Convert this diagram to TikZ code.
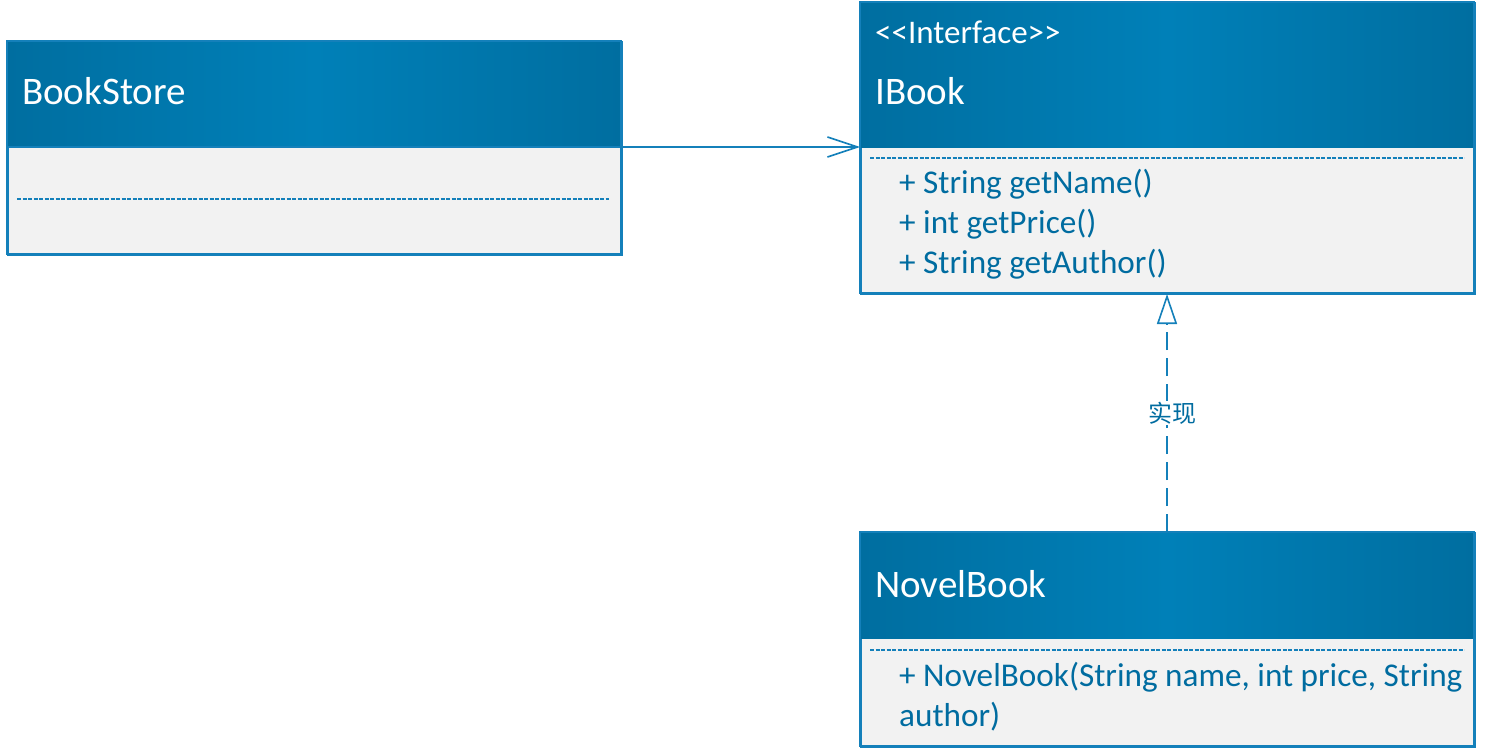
\documentclass[tikz,border=0pt]{standalone}
\usepackage{fontspec}
\setmainfont{Carlito}[Ligatures=NoCommon]
\newfontfamily\cjk{Noto Sans CJK SC}
\usetikzlibrary{arrows.meta}
\definecolor{hdrA}{RGB}{0,110,160}
\definecolor{hdrB}{RGB}{0,128,184}
\definecolor{edge}{RGB}{20,128,186}
\definecolor{bodyfill}{RGB}{242,242,242}
\definecolor{txt}{RGB}{0,108,160}
\tikzset{
  classbox/.style={draw=edge, line width=2pt, fill=bodyfill, rectangle, inner sep=0pt, anchor=north west},
  hdrfill/.style={left color=hdrA, right color=hdrA, middle color=hdrB},
  sep/.style={draw=edge, line width=1.3pt, dash pattern=on 4pt off 1.5pt},
  title/.style={anchor=base west, text=white, font=\fontsize{39}{42}\selectfont, inner sep=0pt},
  stereo/.style={anchor=base west, text=white, font=\fontsize{33}{36}\selectfont, inner sep=0pt},
  member/.style={anchor=base west, text=txt, font=\fontsize{33.2}{36}\selectfont, inner sep=0pt},
  assoc/.style={draw=edge, line width=1.6pt, -{Straight Barb[length=30pt,width=20pt,line width=1.6pt]}},
  realize/.style={draw=edge, line width=1.6pt, dash pattern=on 18pt off 8pt, -{Triangle[open,length=30pt,width=20pt,fill=white,line width=1.6pt]}},
  lbl/.style={text=txt, font=\cjk\fontsize{24}{26}\selectfont, fill=white, inner sep=1pt}
}
\begin{document}
\begin{tikzpicture}[x=1pt,y=-1pt]
\useasboundingbox (0,0) rectangle (1489,752);
% BookStore
\node[classbox, minimum width=614pt, minimum height=213pt] (bookstore) at (7,41) {};
\shade[hdrfill] (7,41) rectangle (621,147);
\draw[edge, line width=2pt] (7,41) rectangle (621,254);
\draw[edge, line width=2pt] (7,147) -- (621,147);
\draw[sep] (17,199) -- (609,199);
\node[title] (bsname) at (22,104) {BookStore};
% IBook
\node[classbox, minimum width=614pt, minimum height=291pt] (ibook) at (860,2) {};
\shade[hdrfill] (860,2) rectangle (1474,147);
\draw[edge, line width=2pt] (860,2) rectangle (1474,293);
\draw[sep] (870,158) -- (1464,158);
\node[stereo] (istereo) at (875,44) {<\kern0pt<Interface>\kern0pt>};
\node[title] (iname) at (875,104) {IBook};
\node[member] (m1) at (899,193) {+ String getName()};
\node[member] (m2) at (899,233) {+ int getPrice()};
\node[member] (m3) at (899,273) {+ String getAuthor()};
% NovelBook
\node[classbox, minimum width=614pt, minimum height=214pt] (novel) at (860,532) {};
\shade[hdrfill] (860,532) rectangle (1474,638);
\draw[edge, line width=2pt] (860,532) rectangle (1474,746);
\draw[sep] (870,650) -- (1464,650);
\node[title] (nname) at (875,597) {NovelBook};
\node[member] (n1) at (899,686) {+ NovelBook(String name, int price, String};
\node[member] (n2) at (899,726) {author)};
% connectors
\draw[assoc] (bookstore.north east |- 0,147) -- (ibook.west |- 0,147);
\coordinate (rs) at (1167,532);
\coordinate (re) at (1167,294);
\draw[realize] (rs) -- (re);
\node[lbl] (rl) at (1172,413) {实现};
\end{tikzpicture}
\end{document}
